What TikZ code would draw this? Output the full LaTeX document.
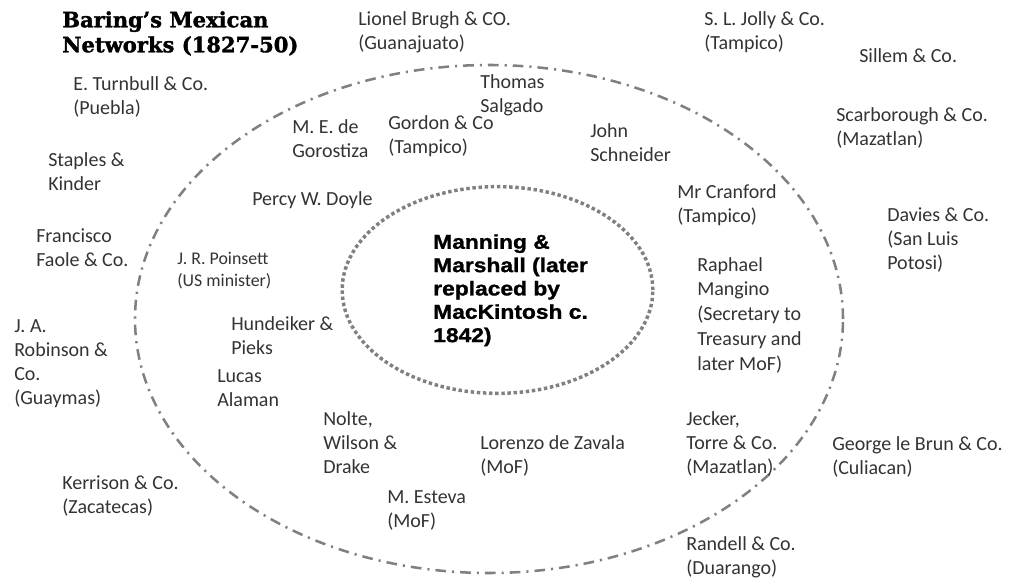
\documentclass[tikz,border=0pt]{standalone}
\usepackage{fontspec}
\setmainfont{Carlito}
\newfontfamily\titlefont[FakeBold=1.6]{DejaVu Serif}
\newfontfamily\hubfont[FakeStretch=1.14,FakeBold=1.2]{Liberation Sans}
\usetikzlibrary{shapes.geometric}
\tikzset{
    %Define style for the names
    firm/.style={
           anchor=north west,
           inner sep=0pt,
           align=left,
           text=black!80,
           font=\fontsize{15}{18.2}\selectfont},
    smallfirm/.style={
           firm,
           font=\fontsize{13.4}{16.5}\selectfont},
    heading/.style={
           firm,
           text=black,
           font=\titlefont\bfseries\fontsize{15.8}{18.75}\selectfont},
    hub/.style={
           firm,
           text=black,
           font=\hubfont\bfseries\fontsize{15}{17.5}\selectfont},
    % Define style for the rings
    outerring/.style={
           ellipse,
           inner sep=0pt,
           draw=black!50, line width=1.9pt,
           dash pattern=on 8pt off 4.5pt on 1.6pt off 4.5pt,
           minimum width=531pt,
           minimum height=381pt},
    innerring/.style={
           ellipse,
           inner sep=0pt,
           draw=black!50, line width=2.6pt,
           dash pattern=on 2.6pt off 2pt,
           minimum width=233pt,
           minimum height=155pt}
}
\begin{document}
\begin{tikzpicture}[x=0.75pt,y=-0.75pt]
\useasboundingbox (0,0) rectangle (1011,580);
\node[outerring](outer) at (489,319) {};
\node[innerring](inner) at (497.5,290) {};
\node[heading](title) at (62,11) {Baring’s Mexican\\Networks (1827-50)};
\node[hub](manning) at (433,234) {Manning \&\\Marshall (later\\replaced by\\MacKintosh c.\\1842)};
% outside the dash-dot ring
\node[firm](lionel) at (358,11) {Lionel Brugh \& CO.\\(Guanajuato)};
\node[firm](jolly) at (704,11) {S. L. Jolly \& Co.\\(Tampico)};
\node[firm](sillem) at (859,48) {Sillem \& Co.};
\node[firm](turnbull) at (73,76) {E. Turnbull \& Co.\\(Puebla)};
\node[firm](scarborough) at (836,107) {Scarborough \& Co.\\(Mazatlan)};
\node[firm](staples) at (48,152) {Staples \&\\Kinder};
\node[firm](davies) at (887,207) {Davies \& Co.\\(San Luis\\Potosi)};
\node[firm](faole) at (36,228) {Francisco\\Faole \& Co.};
\node[firm](robinson) at (14,319) {J. A.\\Robinson \&\\Co.\\(Guaymas)};
\node[firm](brun) at (832,436) {George le Brun \& Co.\\(Culiacan)};
\node[firm](kerrison) at (62,475) {Kerrison \& Co.\\(Zacatecas)};
\node[firm](randell) at (686,536) {Randell \& Co.\\(Duarango)};
% inside the dash-dot ring
\node[firm](salgado) at (480,74) {Thomas\\Salgado};
\node[firm](gorostiza) at (292,119) {M. E. de\\Gorostiza};
\node[firm](gordon) at (388,115) {Gordon \& Co\\(Tampico)};
\node[firm](schneider) at (590,123) {John\\Schneider};
\node[firm](cranford) at (677,184) {Mr Cranford\\(Tampico)};
\node[firm](doyle) at (252,191) {Percy W. Doyle};
\node[smallfirm](poinsett) at (177,252) {J. R. Poinsett\\(US minister)};
\node[firm,font=\fontsize{15}{18.6}\selectfont](mangino) at (697,257) {Raphael\\Mangino\\(Secretary to\\Treasury and\\later MoF)};
\node[firm](hundeiker) at (231,316) {Hundeiker \&\\Pieks};
\node[firm](alaman) at (217,369) {Lucas\\Alaman};
\node[firm](nolte) at (323,411) {Nolte,\\Wilson \&\\Drake};
\node[firm](zavala) at (480,435) {Lorenzo de Zavala\\(MoF)};
\node[firm](jecker) at (686,411) {Jecker,\\Torre \& Co.\\(Mazatlan)};
\node[firm](esteva) at (387,490) {M. Esteva\\(MoF)};
\end{tikzpicture}
\end{document}
